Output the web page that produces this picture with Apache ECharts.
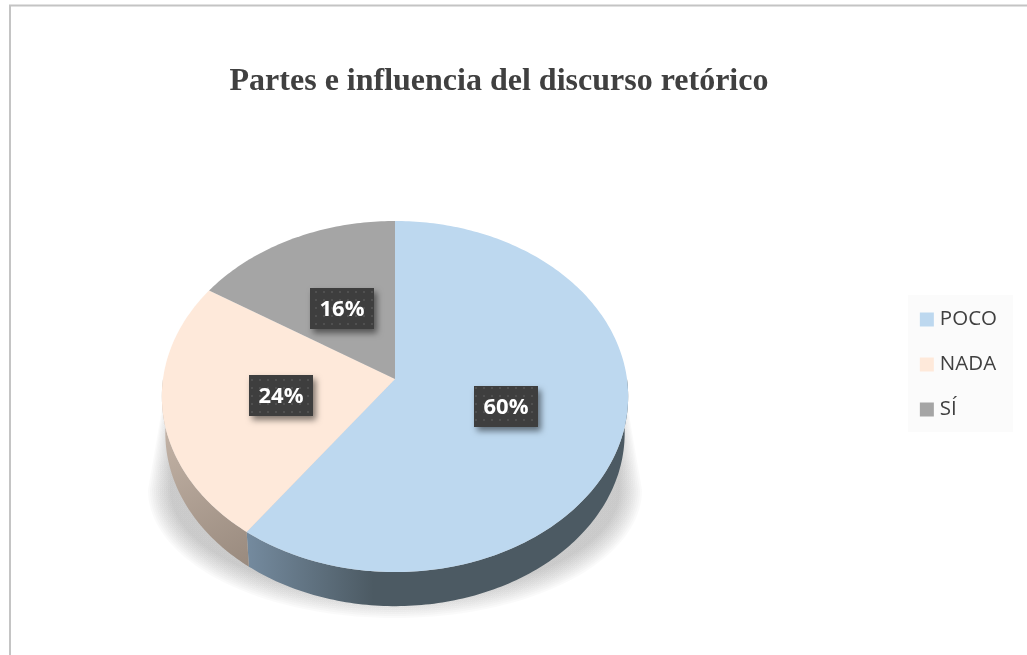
<!DOCTYPE html>
<html>
<head>
<meta charset="utf-8">
<style>
  html, body { margin: 0; padding: 0; background: #fff; }
  #chart { width: 1027px; height: 655px; }
</style>
</head>
<body>
<div id="chart"></div>
<script src="https://cdn.jsdelivr.net/npm/echarts@6/dist/echarts.min.js"></script>
<script>
const categories = ['POCO', 'NADA', 'SÍ'];
const values = [60, 24, 16];
const titleText = 'Partes e influencia del discurso retórico';

const topColors = ['#bdd8ef', '#fee9da', '#a5a5a5'];
const wallStops = [
  [[0, '#748a9e'], [0.32, '#4c5a63'], [1, '#4c5a63']],
  [[0, '#c4b4a7'], [1, '#998a7e']],
  [[0, '#666666'], [1, '#666666']]
];
const wallSpans = [
  [248, 0, 640, 0],
  [165, 420, 250, 565],
  [200, 0, 395, 0]
];
const labelNudge = [[-1, 1], [1, 1], [1, 3]];

// el pastel es un circulo visto en perspectiva: el centro no cae en el centro de la elipse
const apexX = 395, apexY = 379;
const scaleX = 232, scaleY = 173.8, persp = 0.0997;
const depth = 37, baseScale = 0.985;

function project(angle, r) {
  const u = Math.sin(angle) * r, v = Math.cos(angle) * r;
  const d = 1 + persp * v;
  return [apexX + scaleX * u / d, apexY - scaleY * v / d];
}
function projectBase(angle) {
  const p = project(angle, 1);
  return [apexX + baseScale * (p[0] - apexX), apexY + depth + baseScale * (p[1] - apexY)];
}
function arc(a0, a1, fn) {
  const n = Math.max(4, Math.ceil(Math.abs(a1 - a0) * 60));
  const pts = [];
  for (let i = 0; i <= n; i++) pts.push(fn(a0 + (a1 - a0) * i / n));
  return pts;
}

function makeTile() {
  const c = document.createElement('canvas');
  c.width = 8; c.height = 8;
  const g = c.getContext('2d');
  g.fillStyle = '#3e3e3e';
  g.fillRect(0, 0, 8, 8);
  g.fillStyle = '#505050';
  g.fillRect(3, 3, 2, 2);
  return c;
}
const tile = makeTile();

function sliceItem(index) {
  return function (params, api) {
    const a0 = api.value(0) * Math.PI * 2;
    const a1 = api.value(1) * Math.PI * 2;
    const rim = arc(a0, a1, function (a) { return project(a, 1); });
    const span = wallSpans[index];
    const mid = project((a0 + a1) / 2, 0.5);
    const cx = Math.round(mid[0]) + labelNudge[index][0];
    const cy = Math.round(mid[1]) + labelNudge[index][1];
    const children = [];
    // solo la mitad delantera tiene pared visible
    const w0 = Math.max(a0, Math.PI / 2), w1 = Math.min(a1, Math.PI * 1.5);
    if (w1 > w0) {
      children.push({
        type: 'polygon',
        z2: 1,
        shape: { points: arc(w0, w1, function (a) { return project(a, 1); }).concat(arc(w1, w0, projectBase)) },
        style: {
          fill: {
            type: 'linear', global: true,
            x: span[0], y: span[1], x2: span[2], y2: span[3],
            colorStops: wallStops[index].map(function (s) { return { offset: s[0], color: s[1] }; })
          }
        }
      });
    }
    children.push({
      type: 'polygon',
      z2: 5,
      shape: { points: [[apexX, apexY]].concat(rim) },
      style: { fill: topColors[index] }
    }, {
      type: 'rect',
      z2: 10,
      shape: { x: cx - 32, y: cy - 21, width: 64, height: 41 },
      style: {
        fill: { image: tile, repeat: 'repeat' },
        shadowBlur: 6, shadowOffsetX: 3, shadowOffsetY: 4, shadowColor: 'rgba(0,0,0,0.5)'
      }
    }, {
      type: 'text',
      z2: 11,
      x: cx,
      y: cy + 1,
      style: {
        text: api.value(2) + '%',
        fill: '#fff',
        font: '700 22px "Open Sans"',
        align: 'center',
        verticalAlign: 'middle'
      }
    });
    return { type: 'group', children: children };
  };
}

// sombra difusa debajo del pastel, en capas para que el borde se desvanezca
function shadowItem() {
  const layers = [];
  for (let i = 0; i < 12; i++) {
    const inset = i * 2;
    const rx = 247 - inset, ry = 128 - inset;
    const pts = [[173, 345]];
    for (let k = 0; k <= 80; k++) {
      const t = Math.PI - Math.PI * k / 80;
      pts.push([395 + rx * Math.cos(t), 490 + ry * Math.sin(t)]);
    }
    pts.push([617, 345]);
    layers.push({
      type: 'polygon',
      shape: { points: pts },
      style: {
        fill: {
          type: 'linear', global: true, x: 0, y: 345, x2: 0, y2: 470,
          colorStops: [
            { offset: 0, color: i < 2 ? 'rgba(0,0,0,0.02)' : 'rgba(0,0,0,0.008)' },
            { offset: 1, color: 'rgba(0,0,0,0.021)' }
          ]
        }
      }
    });
  }
  return { type: 'group', children: layers };
}

const total = values.reduce(function (a, b) { return a + b; }, 0);
let cum = 0;
const sliceSeries = categories.map(function (name, i) {
  const start = cum / total;
  cum += values[i];
  return {
    type: 'custom',
    name: name,
    coordinateSystem: 'none',
    silent: true,
    animation: false,
    z: 2,
    itemStyle: { color: topColors[i] },
    renderItem: sliceItem(i),
    data: [[start, cum / total, Math.round(values[i] / total * 100)]]
  };
});

const myChart = echarts.init(document.getElementById('chart'), null, { renderer: 'canvas' });
myChart.setOption({
  backgroundColor: '#fff',
  animation: false,
  title: {
    text: titleText,
    left: 494,
    top: 61,
    textAlign: 'center',
    textStyle: {
      fontFamily: '"Liberation Serif"',
      fontWeight: 'bold',
      fontSize: 32,
      color: '#404040'
    }
  },
  legend: {
    data: categories,
    orient: 'vertical',
    right: 14,
    top: 295,
    icon: 'rect',
    itemWidth: 14,
    itemHeight: 14,
    itemGap: 24,
    padding: [14, 16, 12, 12],
    backgroundColor: '#fbfbfb',
    selectedMode: false,
    textStyle: { fontFamily: '"Open Sans"', fontSize: 20.5, color: '#404040', padding: [0, 0, 0, 1] }
  },
  graphic: [{
    type: 'polyline',
    silent: true,
    shape: { points: [[10, 655], [10, 5.5], [1027, 5.5]] },
    style: { stroke: '#c4c4c4', lineWidth: 2, fill: null }
  }],
  series: [{
    type: 'custom',
    name: 'sombra',
    coordinateSystem: 'none',
    silent: true,
    animation: false,
    z: 1,
    renderItem: shadowItem,
    data: [[0]]
  }].concat(sliceSeries)
});
</script>
</body>
</html>
